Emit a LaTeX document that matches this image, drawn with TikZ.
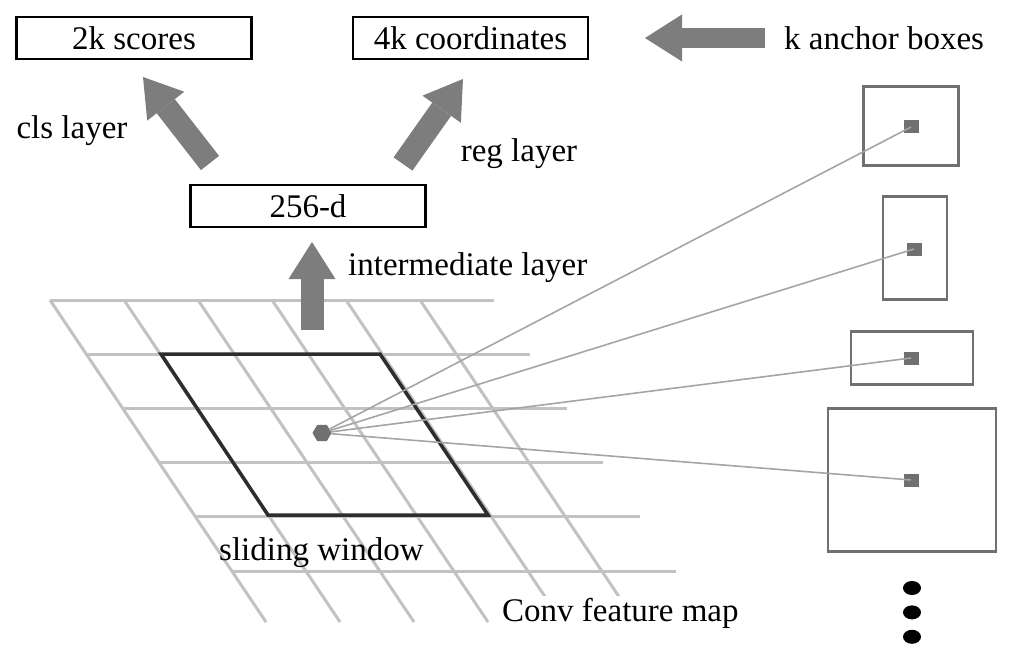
\documentclass[tikz,border=0pt]{standalone}
\usepackage{fontspec}
\setmainfont{Liberation Serif}
\usetikzlibrary{arrows.meta,positioning,shapes.geometric}
\definecolor{arrowgray}{RGB}{125,125,125}
\definecolor{boxgray}{RGB}{112,112,112}
\definecolor{gridgray}{RGB}{194,194,194}
\definecolor{raygray}{RGB}{165,165,165}
\definecolor{windowgray}{RGB}{45,45,45}
\tikzset{
    outbox/.style={rectangle, draw, line width=2.5pt, minimum width=235pt, minimum height=42pt, inner sep=0pt},
    bigarrow/.style={draw=arrowgray, line width=23pt, -{Triangle[length=37pt, width=47pt, line width=0pt]}},
    tag/.style={inner sep=2pt},
    gridline/.style={draw=gridgray, line width=3pt},
    anchorbox/.style={rectangle, draw=boxgray, line width=2.5pt, inner sep=0pt},
    anchordot/.style={rectangle, fill=boxgray, minimum width=15pt, minimum height=13pt, inner sep=0pt},
    ray/.style={draw=raygray, line width=1.6pt},
    moredot/.style={ellipse, fill=black, minimum width=18pt, minimum height=14pt, inner sep=0pt}
}

\begin{document}
\begin{tikzpicture}[x=1pt, y=-1pt, font=\fontsize{33}{40}\selectfont]
    \useasboundingbox (0,0) rectangle (1017,663);

    % Conv feature map
    \foreach \i in {0,...,5}
        \draw[gridline] (50+74*\i,300) -- (266+74*\i,622);
    \foreach \j in {0,...,5}
        \draw[gridline] (50+36.4*\j,300+54.2*\j) -- (494+36.4*\j,300+54.2*\j);
    \draw[windowgray, line width=3.5pt] (161,354) -- (380,354) -- (488,515) -- (268,515) -- cycle;

    \node [tag, anchor=west] (slide) at (217,553) {sliding window};
    \node [tag, fill=white, anchor=west] (conv) at (500,613) {Conv feature map};

    % Outputs
    \node [outbox] (scores) at (134,38) {2k scores};
    \node [outbox, right=99pt of scores] (coords) {4k coordinates};
    \node [outbox] (d256) at (308,206) {256-d};

    % Anchors
    \node [anchordot] (a1) at (911,127) {};
    \node [anchordot] (a2) at (914,249) {};
    \node [anchordot] (a3) at (911,358) {};
    \node [anchordot] (a4) at (911,480) {};
    \node [anchorbox, minimum width=95pt, minimum height=79pt] (box1) at (911,126) {};
    \node [anchorbox, minimum width=64pt, minimum height=103pt] (box2) at (915,248) {};
    \node [anchorbox, minimum width=122pt, minimum height=53pt] (box3) at (912,358) {};
    \node [anchorbox, minimum width=168pt, minimum height=143pt] (box4) at (912,480) {};
    \node [moredot] (m1) at (912,588) {};
    \node [moredot, below=10pt of m1] (m2) {};
    \node [moredot, below=10pt of m2] (m3) {};

    % Rays from the window centre
    \node [regular polygon, regular polygon sides=6, fill=boxgray, minimum size=19pt, inner sep=0pt] (mid) at (322,433) {};
    \foreach \a in {a1,a2,a3,a4}
        \draw[ray] (mid) -- (\a.center);

    % Gray arrows
    \coordinate (clsfrom) at (210,163);
    \coordinate (clsto) at (143,77);
    \coordinate (regfrom) at (403,164);
    \coordinate (regto) at (463,79);
    \coordinate (midfrom) at (312,330);
    \coordinate (midto) at (312,242);
    \coordinate (kfrom) at (765,38);
    \coordinate (kto) at (645,38);
    \draw[bigarrow] (clsfrom) -- (clsto);
    \draw[bigarrow] (regfrom) -- (regto);
    \draw[bigarrow] (midfrom) -- (midto);
    \draw[bigarrow, line width=20pt] (kfrom) -- (kto);

    % Labels
    \node [tag] (cls) at (72,131) {cls layer};
    \node [tag] (reg) at (519,154) {reg layer};
    \node [tag, anchor=west] (inter) at (346,268) {intermediate layer};
    \node [tag, right=17pt of kfrom] (klabel) {k anchor boxes};
\end{tikzpicture}
\end{document}
